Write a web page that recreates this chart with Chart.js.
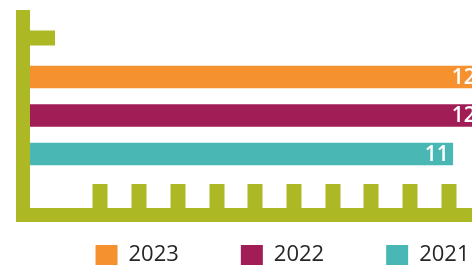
<!DOCTYPE html>
<html>
<head>
<meta charset="utf-8">
<script src="https://cdn.jsdelivr.net/npm/chart.js@4"></script>
<style>
  html, body { margin: 0; padding: 0; overflow: hidden; background: #fff; }
</style>
</head>
<body>
<canvas id="grafico" width="565" height="309"></canvas>
<script>
// datos
var anios = ['2023', '2022', '2021'];
var valores = [11.8, 11.8, 11.1];
var colores = ['#F6912F', '#A01D56', '#49B8B5'];
var marcasX = [2, 3, 4, 5, 6, 7, 8, 9, 10, 11, 12];
var verde = '#ADB825';

// etiqueta blanca al final de cada barra
var etiquetasValor = {
    id: 'etiquetasValor',
    afterDatasetsDraw: function (chart) {
        var ctx = chart.ctx;
        ctx.save();
        ctx.font = '600 21px "Open Sans"';
        ctx.fillStyle = '#ffffff';
        ctx.textAlign = 'right';
        ctx.textBaseline = 'middle';
        chart.data.datasets.forEach(function (ds, i) {
            chart.getDatasetMeta(i).data.forEach(function (barra, j) {
                ctx.fillText(Math.round(ds.data[j].x), barra.x - 4, barra.y + 1);
            });
        });
        ctx.restore();
    }
};

var datasets = [];
for (let i = 0; i < anios.length; i++) {
    datasets.push({
        label: anios[i],
        data: [{ x: valores[i], y: i + 1 }],
        backgroundColor: colores[i],
        borderWidth: 0,
        barThickness: 22,
        grouped: false
    });
}

var grafico = new Chart(document.getElementById('grafico'), {
    type: 'bar',
    data: { datasets: datasets },
    plugins: [etiquetasValor],
    options: {
        indexAxis: 'y',
        responsive: false,
        animation: false,
        layout: { padding: { top: 17, left: 0, right: 0, bottom: 0 } },
        scales: {
            x: {
                type: 'linear',
                min: 0,
                max: 14,
                afterBuildTicks: function (eje) {
                    eje.ticks = marcasX.map(function (v) { return { value: v }; });
                },
                // la leyenda sube por encima del eje, el lienzo se recorta abajo
                afterFit: function (eje) { eje.height = -33; },
                ticks: { display: false },
                grid: {
                    drawOnChartArea: false,
                    lineWidth: 0,
                    tickLength: -31,
                    tickWidth: 15,
                    tickColor: verde
                },
                border: { color: verde, width: 14, z: 1 }
            },
            y: {
                type: 'linear',
                reverse: true,
                min: -0.558,
                max: 4.584,
                offset: false,
                afterBuildTicks: function (eje) {
                    eje.ticks = [{ value: 0 }];
                },
                afterFit: function (eje) { eje.width = 23; },
                ticks: { display: false },
                grid: {
                    offset: false,
                    drawOnChartArea: false,
                    lineWidth: 0,
                    tickLength: -32,
                    tickWidth: 15,
                    tickColor: verde
                },
                border: { color: verde, width: 14, z: 1 }
            }
        },
        plugins: {
            tooltip: { enabled: false },
            legend: {
                position: 'bottom',
                labels: {
                    boxWidth: 22,
                    boxHeight: 20,
                    padding: 62,
                    color: '#262626',
                    font: { family: '"Open Sans"', size: 22 }
                }
            }
        }
    }
});
</script>
</body>
</html>
